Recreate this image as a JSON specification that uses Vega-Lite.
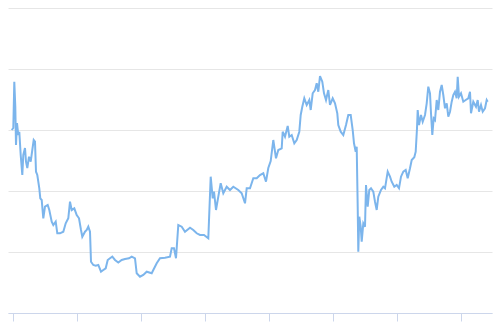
{
  "$schema": "https://vega.github.io/schema/vega-lite/v6.json",
  "width": 484,
  "height": 305,
  "autosize": {"type": "none"},
  "padding": {"left": 8, "top": 8, "right": 8, "bottom": 20},
  "background": "white",
  "config": {"view": {"stroke": null}},
  "data": {"values": [
    {"x": -0.8, "y": 183}, {"x": 0.8, "y": 185}, {"x": 1.8, "y": 231.3}, {"x": 2.8, "y": 206.3}, {"x": 3.5, "y": 168},
    {"x": 4.5, "y": 190}, {"x": 5.8, "y": 178}, {"x": 6.8, "y": 181.3}, {"x": 8.2, "y": 158}, {"x": 9.8, "y": 138},
    {"x": 10.8, "y": 158}, {"x": 12.5, "y": 165}, {"x": 13.5, "y": 151.3}, {"x": 14.8, "y": 145}, {"x": 16.5, "y": 156.3},
    {"x": 18.2, "y": 151.3}, {"x": 19.8, "y": 163}, {"x": 21.2, "y": 173}, {"x": 22.5, "y": 171.3}, {"x": 23.5, "y": 141.3},
    {"x": 24.8, "y": 138}, {"x": 26.8, "y": 124.7}, {"x": 27.8, "y": 114.7}, {"x": 29.2, "y": 113}, {"x": 30.8, "y": 94.7},
    {"x": 32.5, "y": 106.3}, {"x": 35.2, "y": 108}, {"x": 36.8, "y": 103}, {"x": 39.2, "y": 91.3}, {"x": 40.8, "y": 88},
    {"x": 43.2, "y": 91.3}, {"x": 44.8, "y": 79.7}, {"x": 47.5, "y": 79.7}, {"x": 50.8, "y": 81.3}, {"x": 53.2, "y": 89.7},
    {"x": 55.8, "y": 94.7}, {"x": 57.5, "y": 111.3}, {"x": 59.2, "y": 103}, {"x": 61.8, "y": 104.7}, {"x": 64.2, "y": 98},
    {"x": 66.5, "y": 94.7}, {"x": 68.5, "y": 83}, {"x": 69.8, "y": 76.3}, {"x": 72.5, "y": 81.3}, {"x": 74.2, "y": 83},
    {"x": 75.8, "y": 86.3}, {"x": 77.5, "y": 81.3}, {"x": 78.5, "y": 51.3}, {"x": 80.8, "y": 48}, {"x": 83.2, "y": 47.3},
    {"x": 85.8, "y": 48}, {"x": 88.5, "y": 41.3}, {"x": 90.8, "y": 43}, {"x": 93.2, "y": 44.7}, {"x": 95.2, "y": 53},
    {"x": 97.5, "y": 54.7}, {"x": 99.8, "y": 56.3}, {"x": 102.5, "y": 53}, {"x": 105.8, "y": 50.5}, {"x": 109.2, "y": 53},
    {"x": 112.5, "y": 54}, {"x": 116.5, "y": 54.7}, {"x": 119.2, "y": 56.3}, {"x": 122.5, "y": 54.7}, {"x": 124.2, "y": 39.7},
    {"x": 127.5, "y": 36.3}, {"x": 130.8, "y": 38}, {"x": 134.2, "y": 41.3}, {"x": 139.2, "y": 39.7}, {"x": 140.8, "y": 43},
    {"x": 144.2, "y": 49.7}, {"x": 147.5, "y": 54.7}, {"x": 152.5, "y": 55.3}, {"x": 157.5, "y": 56.3}, {"x": 159.2, "y": 64.7},
    {"x": 161.5, "y": 64.7}, {"x": 163.5, "y": 54.7}, {"x": 165.8, "y": 88}, {"x": 169.2, "y": 86.3}, {"x": 172.5, "y": 81.3},
    {"x": 177.5, "y": 85.3}, {"x": 180.8, "y": 83}, {"x": 184.2, "y": 79.7}, {"x": 187.5, "y": 78}, {"x": 191.5, "y": 78},
    {"x": 195.8, "y": 74.7}, {"x": 198.2, "y": 136.3}, {"x": 200.2, "y": 114.7}, {"x": 201.5, "y": 121.3}, {"x": 203.5, "y": 103},
    {"x": 205.8, "y": 116.3}, {"x": 208.2, "y": 129.7}, {"x": 210.8, "y": 119.7}, {"x": 214.2, "y": 126.3}, {"x": 217.5, "y": 123},
    {"x": 220.8, "y": 126.3}, {"x": 225.8, "y": 123}, {"x": 229.2, "y": 119.7}, {"x": 232.5, "y": 109.7}, {"x": 234.2, "y": 124.7},
    {"x": 237.5, "y": 124.7}, {"x": 240.8, "y": 134.7}, {"x": 244.2, "y": 134.7}, {"x": 247.5, "y": 138}, {"x": 250.8, "y": 139.7},
    {"x": 253.5, "y": 131.3}, {"x": 255.8, "y": 145}, {"x": 258.2, "y": 152}, {"x": 260.8, "y": 173}, {"x": 263.5, "y": 154.7},
    {"x": 265.8, "y": 163}, {"x": 269.2, "y": 164.7}, {"x": 270.2, "y": 181.3}, {"x": 272.5, "y": 176.3}, {"x": 275.2, "y": 187},
    {"x": 276.8, "y": 176.3}, {"x": 279.2, "y": 178}, {"x": 281.8, "y": 169.7}, {"x": 284.2, "y": 173}, {"x": 286.8, "y": 181.3},
    {"x": 288.2, "y": 198}, {"x": 289.8, "y": 206.3}, {"x": 291.8, "y": 214.7}, {"x": 294.2, "y": 208}, {"x": 296.8, "y": 213},
    {"x": 298.2, "y": 203}, {"x": 300.2, "y": 219.7}, {"x": 302.5, "y": 223}, {"x": 304.2, "y": 229.7}, {"x": 305.8, "y": 221.3},
    {"x": 307.5, "y": 237}, {"x": 309.8, "y": 231.3}, {"x": 311.5, "y": 219.7}, {"x": 313.5, "y": 213}, {"x": 315.8, "y": 223},
    {"x": 317.5, "y": 208}, {"x": 320.2, "y": 214.7}, {"x": 322.5, "y": 209.7}, {"x": 324.8, "y": 199.7}, {"x": 325.8, "y": 188},
    {"x": 328.2, "y": 181.3}, {"x": 330.8, "y": 178}, {"x": 333.5, "y": 188}, {"x": 335.8, "y": 198}, {"x": 338.2, "y": 198},
    {"x": 340.2, "y": 183}, {"x": 341.5, "y": 169.7}, {"x": 343.2, "y": 161.3}, {"x": 344.2, "y": 166.3}, {"x": 345.2, "y": 106.3},
    {"x": 345.8, "y": 61.3}, {"x": 346.8, "y": 96.3}, {"x": 348.2, "y": 86.3}, {"x": 349.2, "y": 71.3}, {"x": 350.8, "y": 89.7},
    {"x": 352.5, "y": 86.3}, {"x": 353.5, "y": 128}, {"x": 355.2, "y": 106.3}, {"x": 356.8, "y": 123}, {"x": 358.5, "y": 124.7},
    {"x": 360.8, "y": 121.3}, {"x": 362.5, "y": 111.3}, {"x": 364.2, "y": 103}, {"x": 365.8, "y": 116.3}, {"x": 368.5, "y": 123},
    {"x": 370.8, "y": 126.3}, {"x": 372.5, "y": 124.7}, {"x": 375.2, "y": 141.3}, {"x": 377.5, "y": 136.3}, {"x": 379.2, "y": 131.3},
    {"x": 381.8, "y": 126.3}, {"x": 384.2, "y": 128}, {"x": 386.5, "y": 124.7}, {"x": 388.5, "y": 136.3}, {"x": 390.8, "y": 141.3},
    {"x": 393.2, "y": 143}, {"x": 395.2, "y": 134.7}, {"x": 397.5, "y": 144.7}, {"x": 399.2, "y": 153}, {"x": 401.8, "y": 155.7},
    {"x": 403.2, "y": 161.3}, {"x": 404.5, "y": 184.7}, {"x": 405.2, "y": 203}, {"x": 406.5, "y": 188}, {"x": 408.5, "y": 198},
    {"x": 410.2, "y": 191.3}, {"x": 412.5, "y": 198}, {"x": 414.2, "y": 209.7}, {"x": 415.8, "y": 226.3}, {"x": 417.5, "y": 219.7},
    {"x": 418.5, "y": 199.7}, {"x": 419.8, "y": 178}, {"x": 421.2, "y": 194.7}, {"x": 422.5, "y": 193}, {"x": 424.2, "y": 213},
    {"x": 425.8, "y": 203}, {"x": 427.5, "y": 221.3}, {"x": 429.2, "y": 228}, {"x": 430.8, "y": 218}, {"x": 432.5, "y": 204.7},
    {"x": 434.2, "y": 209.7}, {"x": 435.8, "y": 196.3}, {"x": 437.5, "y": 201.3}, {"x": 439.2, "y": 211.3}, {"x": 440.8, "y": 218},
    {"x": 442.5, "y": 221.3}, {"x": 444.2, "y": 214.7}, {"x": 445.2, "y": 236.3}, {"x": 446.5, "y": 216.3}, {"x": 448.5, "y": 219.7},
    {"x": 450.8, "y": 211.3}, {"x": 453.2, "y": 213}, {"x": 455.8, "y": 214.7}, {"x": 457.5, "y": 221.3}, {"x": 458.5, "y": 199.7},
    {"x": 460.8, "y": 211.3}, {"x": 463.5, "y": 206.3}, {"x": 465.2, "y": 213}, {"x": 466.5, "y": 201.3}, {"x": 468.5, "y": 208},
    {"x": 470.2, "y": 201.3}, {"x": 472.5, "y": 204.7}, {"x": 474.2, "y": 213}, {"x": 475.2, "y": 211.3}
  ]},
  "mark": {"type": "line", "color": "#7cb5ec", "strokeWidth": 2, "interpolate": "linear", "clip": true},
  "encoding": {
    "x": {
      "field": "x", "type": "quantitative",
      "scale": {"domain": [-4.5, 479.5], "nice": false, "zero": false},
      "axis": {
        "title": null, "labels": false, "grid": false,
        "values": [0, 64, 128, 192, 256, 320, 384, 448],
        "domainColor": "#ccd6eb", "tickColor": "#ccd6eb", "tickSize": 8, "domainWidth": 1, "tickWidth": 1
      }
    },
    "y": {
      "field": "y", "type": "quantitative",
      "scale": {"domain": [0, 305], "nice": false, "zero": false},
      "axis": {
        "title": null, "labels": false, "ticks": false, "domain": false,
        "grid": true, "gridColor": "#e6e6e6", "gridWidth": 1,
        "values": [0, 61, 122, 183, 244, 305]
      }
    }
  }
}
